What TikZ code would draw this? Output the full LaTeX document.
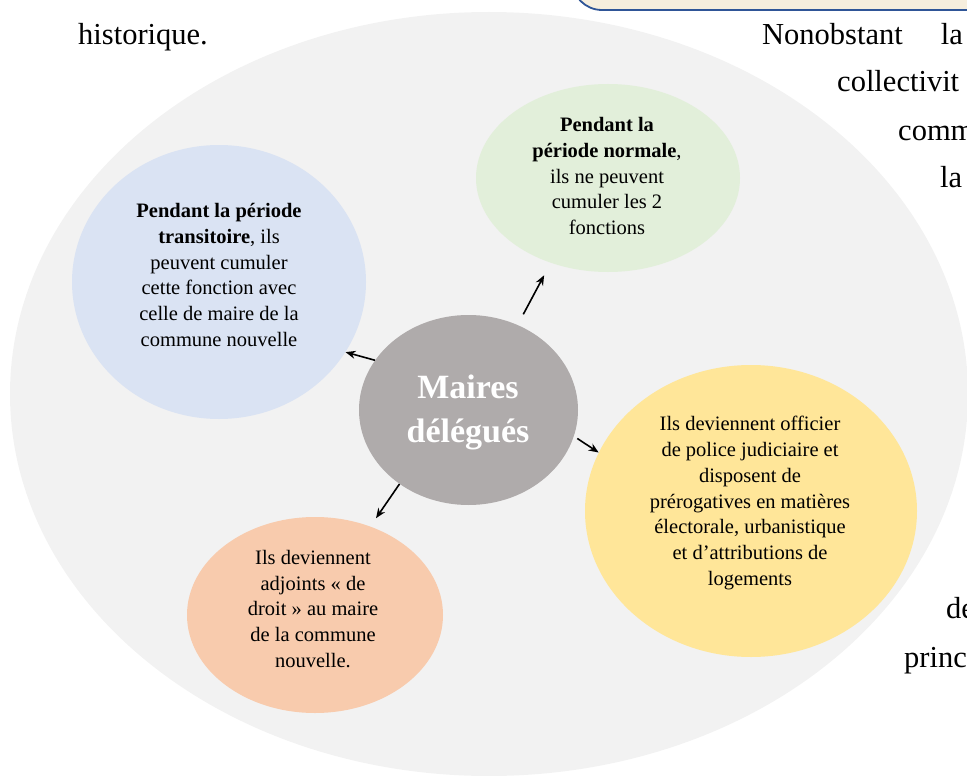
\documentclass[tikz,border=0pt]{standalone}
\usepackage{fontspec}
\setmainfont{Liberation Serif}
\usetikzlibrary{shapes.geometric,arrows.meta}
\definecolor{bigbg}{HTML}{F2F2F2}
\definecolor{cblue}{HTML}{DAE3F3}
\definecolor{cgreen}{HTML}{E2EFDA}
\definecolor{cgray}{HTML}{AFABAB}
\definecolor{cyellow}{HTML}{FFE699}
\definecolor{corange}{HTML}{F8CBAD}
\definecolor{boxblue}{HTML}{2F5597}
\definecolor{boxfill}{HTML}{F6EEDD}
\begin{document}
\begin{tikzpicture}[x=1pt,y=-1pt,
  bubble/.style={ellipse, inner sep=0pt, draw=none},
  txt/.style={align=center, inner sep=0pt, font=\fontsize{20.5}{25.8}\selectfont},
  bodytext/.style={anchor=base west, inner sep=0pt, font=\fontsize{30.5}{36}\selectfont},
  arr/.style={-{Stealth[length=10pt,width=8pt]}, line width=1.6pt}]
\useasboundingbox (0,0) rectangle (967,776);
\begin{scope}
\clip (0,0) rectangle (967,776);
% top box fragment
\draw[draw=boxblue, line width=1.8pt, fill=boxfill, rounded corners=30pt] (572,-80) rectangle (1040,10);
% surrounding text
\node[bodytext] (t1) at (78,45) {historique.};
\node[bodytext] (t2) at (762,45) {Nonobstant\hspace{38pt}la};
\node[bodytext] (t3) at (837,92) {collectivit};
\node[bodytext] (t4) at (898,140) {comm};
\node[bodytext] (t5) at (940,187) {la};
\node[bodytext] (t6) at (946,618) {de};
\node[bodytext] (t7) at (904,667) {princ};
% big background ellipse
\node[bubble, fill=bigbg, minimum width=958pt, minimum height=764pt] (bg) at (489,394) {};
% bubbles
\node[bubble, fill=cblue, minimum width=294pt, minimum height=274pt] (b) at (219,282) {};
\node[bubble, fill=cgreen, minimum width=264pt, minimum height=188pt] (g) at (608,178) {};
\node[bubble, fill=cyellow, minimum width=332pt, minimum height=292pt] (y) at (751,511) {};
\node[bubble, fill=corange, minimum width=256pt, minimum height=196pt] (o) at (315,615) {};
\node[bubble, fill=cgray, minimum width=219pt, minimum height=190pt] (c) at (468.5,410) {};
% texts
\node[txt] (bt) at (219,275) {\textbf{Pendant la période}\\\textbf{transitoire}, ils\\peuvent cumuler\\cette fonction avec\\celle de maire de la\\commune nouvelle};
\node[txt] (gt) at (607,176) {\textbf{Pendant la}\\\textbf{période normale},\\ils ne peuvent\\cumuler les 2\\fonctions};
\node[txt] (yt) at (750,503) {Ils deviennent officier\\de police judiciaire et\\disposent de\\prérogatives en matières\\électorale, urbanistique\\et d’attributions de\\logements};
\node[txt] (ot) at (313,609) {Ils deviennent\\adjoints « de\\droit » au maire\\de la commune\\nouvelle.};
\node[align=center, inner sep=0pt, text=white, font=\fontsize{34}{44}\selectfont\bfseries] (ct) at (468,412) {Maires\\délégués};
% arrows
\draw[arr] (c.152) -- (b.331);
\draw[arr, shorten <=12pt, shorten >=14pt] (c.60) -- (g.236);
\draw[arr, shorten <=4pt] (c.-14) -- (y.159);
\draw[arr, shorten >=10pt] (c.227) -- (o.58);
\end{scope}
\end{tikzpicture}
\end{document}
